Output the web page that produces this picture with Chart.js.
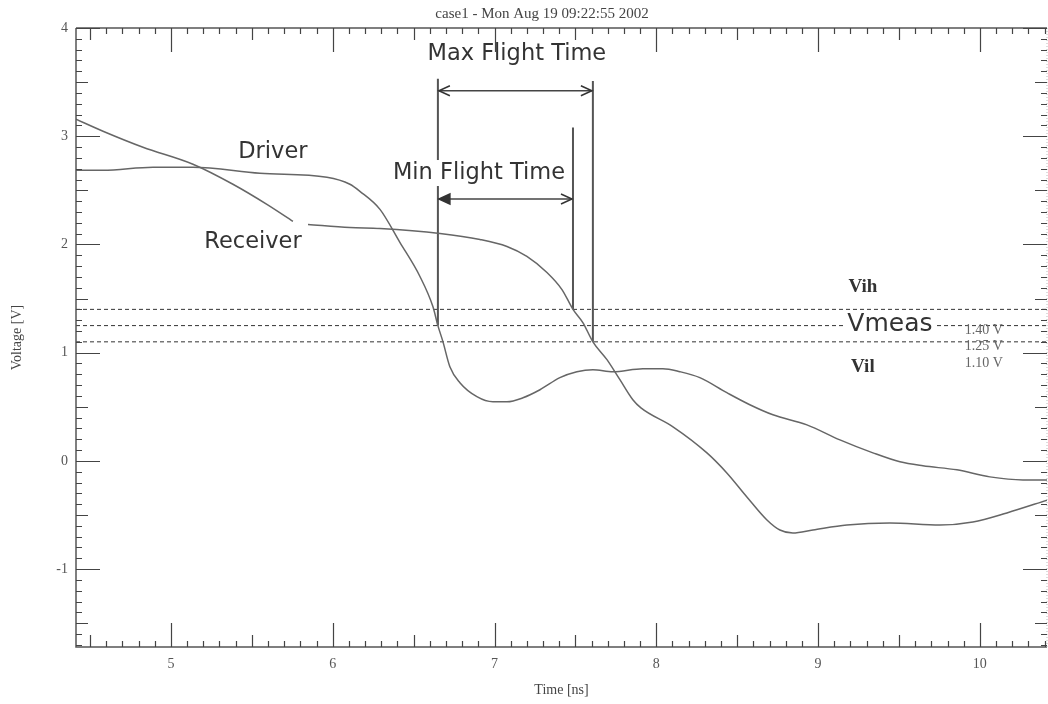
<!DOCTYPE html>
<html lang="en">
<head>
<meta charset="UTF-8">
<title>case1 - flight time</title>
<script src="https://cdn.jsdelivr.net/npm/chart.js"></script>
<style>
  html, body { margin: 0; padding: 0; background: #fff; }
  canvas { display: block; }
</style>
</head>
<body>
<canvas id="grafico" width="1048" height="704"></canvas>

<script>
    // waveform samples (time in ns, voltage in V)
    const driverTime = [4.413, 4.58, 4.889, 5.136, 5.55, 5.964, 6.106, 6.168, 6.292, 6.415, 6.539, 6.619, 6.65, 6.681, 6.724, 6.786, 6.891, 6.99, 7.077, 7.176, 7.281, 7.404, 7.509, 7.608, 7.732, 7.917, 8.041, 8.146, 8.269, 8.436, 8.578, 8.721, 8.931, 9.135, 9.339, 9.506, 9.648, 9.858, 10.062, 10.266, 10.42];
    const driverVolt = [2.685, 2.685, 2.713, 2.713, 2.657, 2.62, 2.556, 2.491, 2.324, 2.019, 1.704, 1.426, 1.25, 1.102, 0.87, 0.722, 0.593, 0.546, 0.546, 0.583, 0.657, 0.769, 0.824, 0.843, 0.824, 0.852, 0.852, 0.824, 0.769, 0.63, 0.519, 0.426, 0.333, 0.194, 0.074, -0.009, -0.046, -0.083, -0.148, -0.176, -0.176];

    const receiverTime = [4.413, 4.58, 4.827, 5.136, 5.383, 5.593, 5.754, 5.8, 5.847, 6.106, 6.292, 6.663, 6.91, 7.077, 7.2, 7.324, 7.417, 7.485, 7.546, 7.608, 7.695, 7.775, 7.855, 7.905, 8.103, 8.313, 8.436, 8.56, 8.684, 8.764, 8.844, 8.968, 9.178, 9.444, 9.753, 9.957, 10.167, 10.42];
    const receiverVolt = [3.157, 3.046, 2.898, 2.741, 2.556, 2.37, 2.213, null, 2.185, 2.157, 2.148, 2.102, 2.046, 1.981, 1.889, 1.741, 1.583, 1.4, 1.278, 1.1, 0.935, 0.75, 0.565, 0.49, 0.315, 0.074, -0.111, -0.333, -0.546, -0.639, -0.667, -0.639, -0.593, -0.574, -0.593, -0.565, -0.481, -0.361];

    // Vih / Vmeas / Vil
    const thresholdVolts = [1.40, 1.25, 1.10];
    const thresholdLabels = ['1.40 V', '1.25 V', '1.10 V'];

    // measurement markers: driver @Vmeas, receiver @Vih, receiver @Vil
    const markerTimes = [6.65, 7.485, 7.608];
    const markerTop = [3.53, 3.08, 3.51];
    const markerBottom = [1.25, 1.40, 1.10];
    const arrowVolts = [3.42, 2.42];   // max, min flight time arrows

    const xMin = 4.413, xMax = 10.415;
    const yMin = -1.72, yMax = 4;

    const cinza = '#666';
    const serif = '"Liberation Serif", "DejaVu Serif", serif';
    const sans = '"DejaVu Sans", Verdana, sans-serif';

    // free text on the plot (positions in data units)
    const textos = [
        { txt: 'Max Flight Time', t: 7.138, v: 3.759, font: '22.5px ' + sans, fundo: true },
        { txt: 'Min Flight Time', t: 6.904, v: 2.66, font: '22.5px ' + sans, fundo: true },
        { txt: 'Driver', t: 5.63, v: 2.852, font: '22.5px ' + sans, fundo: true },
        { txt: 'Receiver', t: 5.507, v: 2.019, font: '22.5px ' + sans, fundo: true },
        { txt: 'Vmeas', t: 9.444, v: 1.259, font: '25px ' + sans, fundo: true },
        { txt: 'Vih', t: 9.277, v: 1.605, font: 'bold 19px ' + serif, fundo: false },
        { txt: 'Vil', t: 9.277, v: 0.87, font: 'bold 19px ' + serif, fundo: false }
    ];

    function pts(ts, vs) {
        return ts.map((t, i) => ({ x: t, y: vs[i] }));
    }

    const datasets = [
        { data: pts(driverTime, driverVolt), borderColor: cinza, borderWidth: 1.5, cubicInterpolationMode: 'monotone' },
        { data: pts(receiverTime, receiverVolt), borderColor: cinza, borderWidth: 1.5, cubicInterpolationMode: 'monotone', spanGaps: false }
    ];
    thresholdVolts.forEach(v => {
        datasets.push({ data: [{ x: xMin, y: v }, { x: xMax, y: v }], borderColor: '#333', borderWidth: 1, borderDash: [4, 3] });
    });
    markerTimes.forEach((t, i) => {
        datasets.push({ data: [{ x: t, y: markerTop[i] }, { x: t, y: markerBottom[i] }], borderColor: '#555', borderWidth: 2 });
    });
    datasets.push({ data: [{ x: markerTimes[0], y: arrowVolts[0] }, { x: markerTimes[2], y: arrowVolts[0] }], borderColor: '#444', borderWidth: 1.5 });
    datasets.push({ data: [{ x: markerTimes[0], y: arrowVolts[1] }, { x: markerTimes[1], y: arrowVolts[1] }], borderColor: '#444', borderWidth: 1.5 });

    function seta(ctx, x, y, dir, cheia) {
        ctx.beginPath();
        ctx.moveTo(x + dir * 11, y - 5);
        ctx.lineTo(x, y);
        ctx.lineTo(x + dir * 11, y + 5);
        if (cheia) {
            ctx.closePath();
            ctx.fill();
        }
        ctx.stroke();
    }

    const moldura = {
        id: 'moldura',
        afterDatasetsDraw(chart) {
            const { ctx, chartArea: a, scales: { x, y } } = chart;
            ctx.save();

            // text boxes (white background hides lines under them)
            textos.forEach(o => {
                ctx.font = o.font;
                const px = x.getPixelForValue(o.t);
                const py = y.getPixelForValue(o.v);
                const w = ctx.measureText(o.txt).width;
                if (o.fundo) {
                    ctx.fillStyle = '#fff';
                    ctx.fillRect(px - w / 2 - 2, py - 13, w + 4, 26);
                }
            });
            textos.forEach(o => {
                ctx.font = o.font;
                ctx.fillStyle = '#333';
                ctx.textAlign = 'center';
                ctx.textBaseline = 'middle';
                ctx.fillText(o.txt, x.getPixelForValue(o.t), y.getPixelForValue(o.v));
            });

            // threshold values
            ctx.font = '14px ' + serif;
            ctx.fillStyle = '#666';
            ctx.textAlign = 'left';
            thresholdVolts.forEach((v, i) => {
                ctx.fillText(thresholdLabels[i], x.getPixelForValue(9.907), y.getPixelForValue(v) + 21);
            });

            // arrowheads
            ctx.strokeStyle = '#333';
            ctx.fillStyle = '#333';
            ctx.lineWidth = 1.5;
            const yMax2 = y.getPixelForValue(arrowVolts[0]);
            const yMin2 = y.getPixelForValue(arrowVolts[1]);
            seta(ctx, x.getPixelForValue(markerTimes[0]) + 1, yMax2, 1, false);
            seta(ctx, x.getPixelForValue(markerTimes[2]) - 1, yMax2, -1, false);
            seta(ctx, x.getPixelForValue(markerTimes[0]) + 1, yMin2, 1, true);
            seta(ctx, x.getPixelForValue(markerTimes[1]) - 1, yMin2, -1, false);

            // frame
            ctx.strokeStyle = '#555';
            ctx.lineWidth = 1.5;
            ctx.beginPath();
            ctx.moveTo(a.left, a.top);
            ctx.lineTo(a.right, a.top);
            ctx.moveTo(a.left, a.top);
            ctx.lineTo(a.left, a.bottom);
            ctx.lineTo(a.right, a.bottom);
            ctx.stroke();
            ctx.strokeStyle = '#bbb';
            ctx.lineWidth = 1;
            ctx.setLineDash([1, 2]);
            ctx.beginPath();
            ctx.moveTo(a.right, a.top);
            ctx.lineTo(a.right, a.bottom);
            ctx.stroke();
            ctx.setLineDash([]);

            // inward ticks: 0.1 minor, 0.5 medium, 1 major
            ctx.strokeStyle = '#444';
            ctx.lineWidth = 1.2;
            ctx.beginPath();
            function comp(i) { return i % 10 === 0 ? 24 : (i % 5 === 0 ? 12 : 6); }
            for (let i = Math.ceil(x.min * 10); i <= Math.floor(x.max * 10); i++) {
                const px = Math.round(x.getPixelForValue(i / 10)) + 0.5;
                const L = comp(i);
                ctx.moveTo(px, a.bottom); ctx.lineTo(px, a.bottom - L);
                ctx.moveTo(px, a.top); ctx.lineTo(px, a.top + L);
            }
            for (let i = Math.ceil(y.min * 10); i <= Math.floor(y.max * 10); i++) {
                const py = Math.round(y.getPixelForValue(i / 10)) + 0.5;
                const L = comp(Math.abs(i));
                ctx.moveTo(a.left, py); ctx.lineTo(a.left + L, py);
                ctx.moveTo(a.right, py); ctx.lineTo(a.right - L, py);
            }
            ctx.stroke();

            // header
            ctx.font = '15px ' + serif;
            ctx.fillStyle = '#444';
            ctx.textAlign = 'center';
            ctx.textBaseline = 'middle';
            ctx.fillText('case1 - Mon Aug 19 09:22:55 2002', 542, 14);
            ctx.restore();
        }
    };

    const eixoFonte = { family: serif, size: 14 };

    new Chart(document.getElementById('grafico').getContext('2d'), {
        type: 'line',
        data: { datasets: datasets },
        options: {
            responsive: false,
            animation: false,
            elements: { point: { radius: 0 }, line: { fill: false } },
            layout: { padding: { top: 28, right: 1, left: 0, bottom: 0 } },
            plugins: { legend: { display: false }, tooltip: { enabled: false } },
            scales: {
                x: {
                    type: 'linear', min: xMin, max: xMax,
                    afterFit: s => { s.height = 57; },
                    grid: { display: false, drawTicks: false },
                    border: { display: false },
                    ticks: { stepSize: 1, includeBounds: false, padding: 9, font: eixoFonte, color: '#555', maxRotation: 0, autoSkip: false },
                    title: { display: true, text: 'Time [ns]', font: eixoFonte, color: '#444', padding: { top: 0, bottom: 5 } }
                },
                y: {
                    type: 'linear', min: yMin, max: yMax,
                    afterFit: s => { s.width = 76; },
                    grid: { display: false, drawTicks: false },
                    border: { display: false },
                    ticks: { stepSize: 1, includeBounds: false, padding: 8, font: eixoFonte, color: '#555', autoSkip: false },
                    title: { display: true, text: 'Voltage [V]', font: eixoFonte, color: '#444', padding: { top: 9, bottom: 0 } }
                }
            }
        },
        plugins: [moldura]
    });
</script>
</body>
</html>
